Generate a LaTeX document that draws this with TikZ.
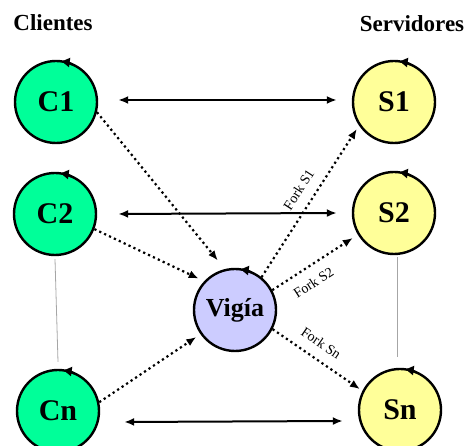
\documentclass[tikz,border=0pt]{standalone}
\usepackage{fontspec}
\setmainfont{Liberation Serif}
\usetikzlibrary{arrows.meta,calc}

\definecolor{clientgreen}{RGB}{0,255,153}
\definecolor{serveryellow}{RGB}{255,255,153}
\definecolor{watchblue}{RGB}{204,204,255}

\tikzset{
  proc/.style={circle, draw=black, line width=2.4pt, minimum size=82pt,
    inner sep=0pt, font=\fontsize{30}{30}\selectfont\bfseries},
  client/.style={proc, fill=clientgreen},
  server/.style={proc, fill=serveryellow},
  watcher/.style={proc, fill=watchblue, font=\fontsize{26}{26}\selectfont\bfseries},
  heading/.style={font=\fontsize{23}{23}\selectfont\bfseries, anchor=base, inner sep=0pt},
  biarrow/.style={line width=2pt, {Latex[length=10pt,width=8pt]}-{Latex[length=10pt,width=8pt]}},
  forkarrow/.style={line width=2.2pt, dash pattern=on 2.2pt off 3.2pt,
    -{Latex[length=10pt,width=8pt]}},
  forklabel/.style={font=\fontsize{14}{14}\selectfont, sloped, inner sep=2pt},
  sepline/.style={draw=gray!70, line width=0.8pt},
  spin/.style={line width=2.4pt, -{Triangle[length=8pt,width=9pt]}}
}

\newcommand{\spinmark}[1]{%
  \draw[spin] ($(#1.center)+(66:41pt)$) arc[start angle=66, end angle=82, radius=41pt];}

\begin{document}
\begin{tikzpicture}[x=1pt,y=1pt]
  \useasboundingbox (0,0) rectangle (474,446);

  % column headings
  \node[heading] (hc) at (53,415) {Clientes};
  \node[heading] (hs) at (412,414) {Servidores};

  % clients
  \node[client] (c1) at (56,344) {C1};
  \node[client] (c2) at (55,232) {C2};
  \node[client] (cn) at (58,35) {Cn};

  % servers
  \node[server] (s1) at (394,344) {S1};
  \node[server] (s2) at (394,233) {S2};
  \node[server] (sn) at (400,36) {Sn};

  % watcher in the middle
  \node[watcher] (vg) at (235,136) {Vigía};

  % rotation marks on top of every process
  \foreach \p in {c1,c2,cn,s1,s2,sn,vg} {\spinmark{\p}}

  % ellipsis separators
  \draw[sepline] ([yshift=-3pt]c2.south) -- ([yshift=7pt]cn.north);
  \draw[sepline] ([xshift=3pt,yshift=-2pt]s2.south) -- ([xshift=-3pt,yshift=11pt]sn.north);

  % direct client-server links
  \draw[biarrow] ([shift={(20pt,2pt)}]c1.east) -- ([shift={(-15pt,2pt)}]s1.west);
  \draw[biarrow] ([shift={(21pt,0pt)}]c2.east) -- ([shift={(-15pt,0pt)}]s2.west);
  \draw[biarrow] ([shift={(24pt,-11pt)}]cn.east) -- ([shift={(-15pt,-11pt)}]sn.west);

  % clients to the watcher
  \draw[forkarrow, shorten >=11pt] (c1.-14) -- (vg.104);
  \draw[forkarrow, shorten >=6pt] (c2.-21) -- (vg.137);
  \draw[forkarrow, shorten >=5pt] (cn.12) -- (vg.215);

  % watcher forks to the servers
  \draw[forkarrow, shorten >=4pt] (vg.51) -- node[forklabel, pos=0.52, above=8pt] {Fork S1} (s1.214);
  \draw[forkarrow, shorten >=6pt] (vg.28) -- node[forklabel, pos=0.38, below=8pt] {Fork S2} (s2.211);
  \draw[forkarrow, shorten >=3pt] (vg.-27) -- node[forklabel, pos=0.44, above=8pt] {Fork Sn} (sn.153);
\end{tikzpicture}
\end{document}
